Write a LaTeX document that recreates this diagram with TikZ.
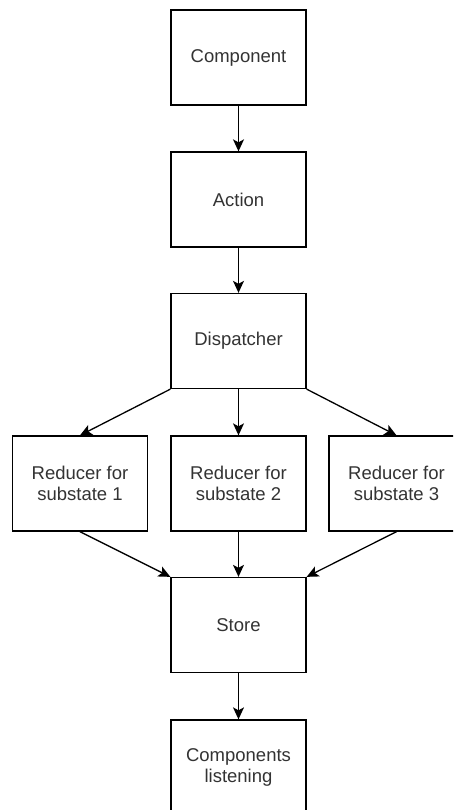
\documentclass[tikz,border=0pt]{standalone}
\usepackage{fontspec}
\setmainfont{Liberation Sans}
\usetikzlibrary{arrows.meta}
\begin{document}
\begin{tikzpicture}[x=1pt,y=-1pt,
  box/.style={draw=black, line width=1.3pt, fill=white, minimum width=135pt,
    minimum height=95pt, inner sep=0pt, align=center, text=black!80,
    font=\fontsize{18.5}{21}\selectfont},
  flow/.style={draw=black, line width=1.3pt,
    -{Stealth[length=12pt,width=11pt,inset=3pt]}}]
\useasboundingbox (0,0) rectangle (453,810);
\clip (0,0) rectangle (453,810);
% boxes (centres in pixel units, y downwards)
\node[box] (comp)  at (238.5,57.5)  {Component};
\node[box] (act)   at (238.5,199.5) {Action};
\node[box] (disp)  at (238.5,341)   {Dispatcher};
\node[box] (r1)    at (80,483.5)    {Reducer for\\substate 1};
\node[box] (r2)    at (238.5,483.5) {Reducer for\\substate 2};
\node[box] (r3)    at (396.5,483.5) {Reducer for\\substate 3};
\node[box] (store) at (238.5,625)   {Store};
\node[box] (lis)   at (238.5,767.5) {Components\\listening};
% connectors
\draw[flow] (comp.south) -- (act.north);
\draw[flow] (act.south) -- (disp.north);
\draw[flow] (disp.south west) -- (r1.north);
\draw[flow] (disp.south) -- (r2.north);
\draw[flow] (disp.south east) -- (r3.north);
\draw[flow] (r1.south) -- (store.north west);
\draw[flow] (r2.south) -- (store.north);
\draw[flow] (r3.south) -- (store.north east);
\draw[flow] (store.south) -- (lis.north);
\end{tikzpicture}
\end{document}
